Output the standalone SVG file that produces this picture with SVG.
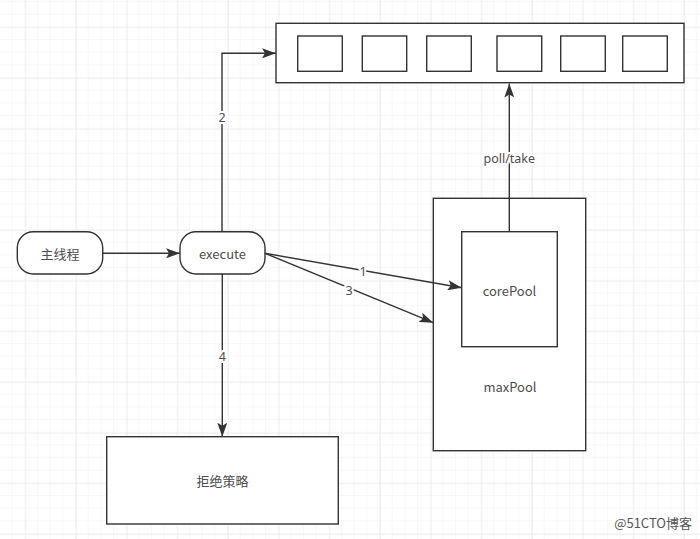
<svg xmlns="http://www.w3.org/2000/svg" width="700" height="539" viewBox="0 0 700 539">
<defs>
<pattern id="minor" width="12.667" height="12.667" patternUnits="userSpaceOnUse" x="0" y="2">
<path d="M12.667 0V12.667M0 12.667H12.667" fill="none" stroke="#f1f1f1" stroke-width="1"/>
</pattern>
<pattern id="major" width="50.667" height="50.667" patternUnits="userSpaceOnUse" x="25.3" y="27.3">
<path d="M0 0V50.667M0 0H50.667" fill="none" stroke="#e4e4e4" stroke-width="1"/>
</pattern>
<marker id="arrb" viewBox="0 0 14 10" refX="14" refY="5" markerWidth="14" markerHeight="10" markerUnits="userSpaceOnUse" orient="auto">
<path d="M0 0L14 5L0 10L3 5Z" fill="#333"/>
</marker>
</defs>
<style>
.box{fill:#fff;stroke:#333;stroke-width:1.4}
.ln{fill:none;stroke:#333;stroke-width:1.4}
.t{font-family:"Noto Sans CJK SC","Noto Sans",sans-serif;font-size:13px;fill:#4d4d4d;text-anchor:middle;dominant-baseline:central}
.lb{font-family:"Noto Sans",sans-serif;font-size:12.5px;fill:#4d4d4d;text-anchor:middle;dominant-baseline:central;stroke:#fff;stroke-width:4;paint-order:stroke}
</style>
<rect width="700" height="539" fill="#fff"/>
<rect width="700" height="539" fill="url(#minor)"/>
<rect width="700" height="539" fill="url(#major)"/>

<g id="queue">
<rect class="box" x="276" y="23.3" width="408" height="59.4"/>
<rect class="box" x="297.7" y="36" width="44.6" height="35.3"/>
<rect class="box" x="362.3" y="36" width="44.4" height="35.3"/>
<rect class="box" x="426.7" y="36" width="44.6" height="35.3"/>
<rect class="box" x="497" y="36" width="44.7" height="35.3"/>
<rect class="box" x="560.7" y="36" width="44.6" height="35.3"/>
<rect class="box" x="622.7" y="36" width="44.6" height="35.3"/>
</g>

<g id="main">
<rect class="box" x="17.3" y="231.7" width="85.4" height="42.3" rx="16" ry="16"/>
<text class="t" x="60" y="253.5">主线程</text>
</g>

<g id="execute">
<rect class="box" x="180" y="231.7" width="85" height="42.3" rx="16" ry="16"/>
<text class="t" x="222.5" y="253.5">execute</text>
</g>

<g id="maxPool">
<rect class="box" x="433.3" y="198.3" width="152.4" height="252.4"/>
<text class="t" x="510" y="386">maxPool</text>
</g>

<g id="corePool">
<rect class="box" x="461.7" y="231.7" width="95.6" height="115"/>
<text class="t" x="509.5" y="290">corePool</text>
</g>

<g id="reject">
<rect class="box" x="106.7" y="436.7" width="231.6" height="87.3"/>
<text class="t" x="222.5" y="480">拒绝策略</text>
</g>

<g id="connectors">
<path class="ln" d="M102.7 253.3H180" marker-end="url(#arrb)"/>
<path class="ln" d="M222 231.7V53.3H276" marker-end="url(#arrb)"/>
<text class="lb" x="222" y="117">2</text>
<path class="ln" d="M509.3 231.7V83.5" marker-end="url(#arrb)"/>
<text class="lb" x="509.3" y="158">poll/take</text>
<path class="ln" d="M265 253.3L461.7 287.7" marker-end="url(#arrb)"/>
<text class="lb" x="363" y="271.5">1</text>
<path class="ln" d="M265 253.3L433.3 322.7" marker-end="url(#arrb)"/>
<text class="lb" x="349" y="290">3</text>
<path class="ln" d="M222.3 274V436.7" marker-end="url(#arrb)"/>
<text class="lb" x="222.3" y="356">4</text>
</g>

<text x="692" y="522" font-family="'Noto Sans CJK SC','Noto Sans',sans-serif" font-size="13" fill="#555" text-anchor="end" dominant-baseline="central">@51CTO博客</text>
</svg>
